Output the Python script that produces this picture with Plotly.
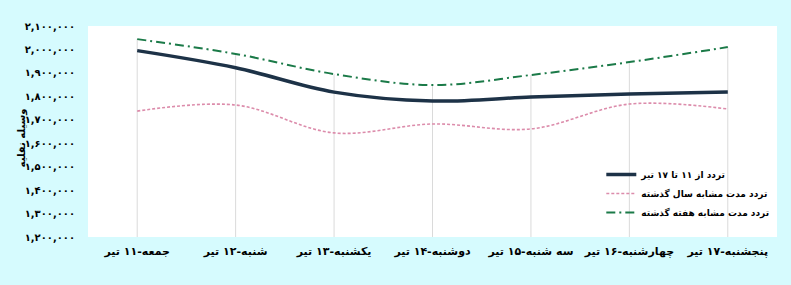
import plotly.graph_objects as go

categories = ["جمعه-۱۱ تیر", "شنبه-۱۲ تیر", "یکشنبه-۱۳ تیر", "دوشنبه-۱۴ تیر",
              "سه شنبه-۱۵ تیر", "چهارشنبه-۱۶ تیر", "پنجشنبه-۱۷ تیر"]
current_week = [1995000, 1922000, 1818000, 1780000, 1797000, 1810000, 1818000]
last_year = [1737000, 1763000, 1644000, 1682000, 1661000, 1767000, 1746000]
last_week = [2044000, 1981000, 1895000, 1848000, 1891000, 1946000, 2010000]

series_names = ["تردد از ۱۱ تا ۱۷ تیر", "تردد مدت مشابه سال گذشته", "تردد مدت مشابه هفته گذشته"]

y_ticks = [1200000, 1300000, 1400000, 1500000, 1600000, 1700000, 1800000, 1900000, 2000000, 2100000]
y_ticktext = ["۱,۲۰۰,۰۰۰", "۱,۳۰۰,۰۰۰", "۱,۴۰۰,۰۰۰", "۱,۵۰۰,۰۰۰", "۱,۶۰۰,۰۰۰",
              "۱,۷۰۰,۰۰۰", "۱,۸۰۰,۰۰۰", "۱,۹۰۰,۰۰۰", "۲,۰۰۰,۰۰۰", "۲,۱۰۰,۰۰۰"]
y_min, y_max = 1200000, 2100000
axis_title = "وسیله نقلیه"

xs = list(range(len(categories)))
FONT = "DejaVu Sans"

fig = go.Figure()

# drop lines (from highest series down to the category axis)
dx, dy = [], []
for i in xs:
    top = max(current_week[i], last_year[i], last_week[i])
    dx += [i, i, None]
    dy += [top, y_min, None]
fig.add_trace(go.Scatter(x=dx, y=dy, mode="lines", line=dict(color="#dadada", width=1),
                         showlegend=False, hoverinfo="skip"))

fig.add_trace(go.Scatter(x=xs, y=current_week, name=series_names[0], mode="lines",
                         line=dict(color="#1d3247", width=3.5, shape="spline")))
fig.add_trace(go.Scatter(x=xs, y=last_year, name=series_names[1], mode="lines",
                         line=dict(color="#dc8cab", width=1.6, shape="spline", dash="3px,2px")))
fig.add_trace(go.Scatter(x=xs, y=last_week, name=series_names[2], mode="lines",
                         line=dict(color="#1b7a48", width=2, shape="spline", dash="9px,4px,2px,4px")))

fig.update_layout(
    width=791, height=285,
    margin=dict(l=88, r=14, t=26, b=48),
    paper_bgcolor="#d6fbfe",
    plot_bgcolor="#ffffff",
    font=dict(family=FONT, color="#000000", size=10),
    legend=dict(x=0.745, y=0.365, xanchor="left", yanchor="top",
                bgcolor="rgba(255,255,255,0)", font=dict(size=9, family=FONT, weight="bold"),
                tracegroupgap=0, itemwidth=30),
    xaxis=dict(range=[-0.5, len(categories) - 0.5], tickvals=xs, ticktext=categories,
               showgrid=False, zeroline=False, showline=False, ticks="",
               ticklabelstandoff=6,
               tickfont=dict(size=11, family=FONT, weight="bold")),
    yaxis=dict(range=[y_min, y_max], tickvals=y_ticks, ticktext=y_ticktext,
               showgrid=False, zeroline=False, showline=False, ticks="",
               ticklabelstandoff=12,
               tickfont=dict(size=10, family=FONT, weight="bold")),
    annotations=[dict(text=axis_title, textangle=-90, xref="paper", yref="paper",
                      x=-0.108, y=0.47, showarrow=False,
                      font=dict(size=10, family=FONT, weight="bold"))],
)

fig.write_html("out.html")
